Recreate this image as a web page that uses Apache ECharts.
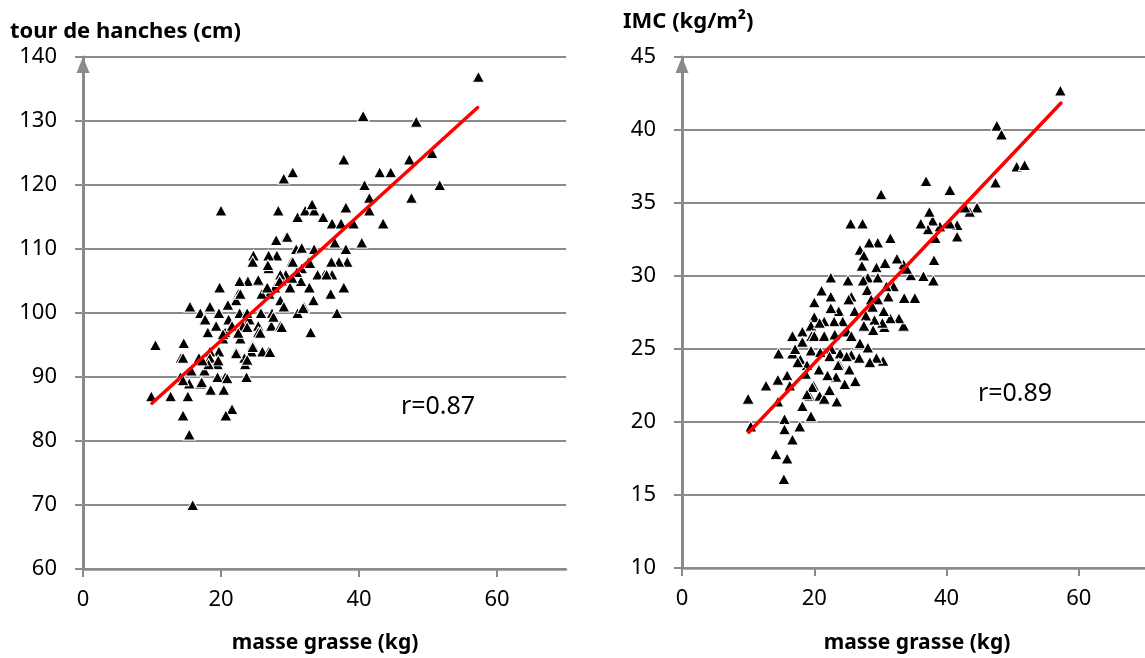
<!DOCTYPE html>
<html>
<head>
<meta charset="utf-8">
<script src="https://cdn.jsdelivr.net/npm/echarts@6/dist/echarts.min.js"></script>
<style>
html,body{margin:0;padding:0;background:#fff;}
#chart{width:1145px;height:658px;}
</style>
</head>
<body>
<div id="chart"></div>
<script>
// ---- Data ----
const xTicks = [0, 20, 40, 60];
const leftTitle = 'tour de hanches (cm)';
const rightTitle = 'IMC (kg/m²)';
const xTitle = 'masse grasse (kg)';
const leftR = 'r=0.87';
const rightR = 'r=0.89';

// masse grasse (kg), tour de hanches (cm)
const hipPoints = [
[57.3,136.9],[40.6,130.8],[48.3,129.9],[37.8,124],[47.3,124],[50.6,125],[43,122],[44.6,122],[51.7,120],[40.8,120],
[47.6,118],[41.5,118],[41.5,116],[43.5,114],[38.1,116.5],[29.1,121],[30.4,122],[20,116],[28.3,116],[31.1,115],
[32.2,116],[33.5,116],[33.2,117],[34.8,115],[36.1,114],[37.4,114],[39.2,114],[40.4,111],[36.5,111],[38.1,110],
[38.3,108],[37.1,108],[36,108],[36.1,106],[35,106],[34,106],[35.9,103],[37.8,104],[36.8,100],[33.3,102],
[32.8,104],[33,97],[32,101],[31.1,100],[33.5,110],[32.7,108],[31.7,107],[31.6,105],[29.5,112],[30.2,108],
[29.4,106],[30.9,110],[28.1,109],[26.9,107],[28.8,105],[30,104],[27.8,104],[28.6,102],[27,103],[29.1,101],
[27.4,100],[25.9,103],[25.5,105],[24.7,109],[24.6,108],[23.9,105],[22.7,105],[22.5,103],[19.8,104],[22.2,102],
[25.7,100],[24.1,99],[22.7,100],[21.1,99],[19.7,100],[18.4,101],[15.5,101],[17,100],[17.6,99],[18.1,97],
[19.3,98],[20.6,97],[21.6,98],[23.2,98],[25.4,98],[27.3,98],[28.6,98],[25.4,97],[22.8,96],[20.3,96],
[24.6,95],[26.9,94],[26,94],[24.4,94],[22.2,94],[19.7,94],[18.4,94],[18.4,93],[16.8,93],[23.4,93],
[19.5,92],[23.5,92],[23.7,90],[20.6,90],[19.5,90],[15.7,91],[17.6,91],[14.2,93],[14.6,95.3],[10.5,95],
[14.1,90],[15.4,89],[17,89],[18.5,88],[20.4,88],[15.2,87],[12.7,87],[9.9,87],[14.5,84],[21.6,85],
[20.7,84],[15.4,81],[15.9,70],[28.6,106],[26.9,109],[31.7,110.2],[31,106.4],[32.9,107.8],[31.9,100.8],[30.3,105.5],
[28.5,105],[26.7,104],[25.4,105.2],[22.8,103],[21,101.3],[18.4,101],[17.7,99],[20.3,96.7],[23.8,100],[25.8,100],
[27.6,99.4],[28.8,97.8],[25.7,96.9],[23.8,97.8],[22.5,96.9],[24.6,94.7],[27.1,93.9],[23.8,92.7],[22.2,93.7],[19.6,92.6],
[18.2,92],[20.9,89.8],[17.2,89.2],[14.5,89.5],[14.5,93],[17.3,92.6],[28,111.4],[26.8,107.5],[29.6,111.9],[30.4,108],
[33.4,102],[35.3,106]
];

// masse grasse (kg), IMC (kg/m²)
const bmiPoints = [
[57.2,42.7],[47.6,40.3],[48.3,39.7],[50.6,37.5],[51.8,37.6],[47.4,36.4],[36.9,36.5],[40.5,35.9],[30.1,35.6],[44.6,34.7],
[43.5,34.4],[42.8,34.7],[41.6,33.5],[41.6,32.7],[40.5,33.6],[39,33.4],[38.3,32.6],[37.9,33.8],[37.2,33.2],[36.1,33.6],
[37.4,34.4],[38.1,31.1],[38,29.7],[36.5,30],[34.6,30.05],[33.5,30.8],[34,30.5],[35.2,28.5],[33.6,28.5],[33.5,26.6],
[32.8,27.1],[31.5,27.1],[30.6,26.5],[30.4,24.2],[29.4,24.4],[30.5,27.6],[31.2,28.6],[32,29.3],[30.9,29.3],[31.5,32.6],
[29.6,32.3],[28.3,32.3],[25.5,33.6],[27.3,33.6],[26.9,31.8],[27.5,31.4],[30.7,30.9],[29.4,30.6],[32.5,31.2],[27.2,30.7],
[28.1,29.9],[29.6,29.9],[27.4,29.7],[25.1,29.7],[22.5,29.9],[21.1,29],[22.5,28.6],[25.6,28.6],[28,29.05],[28.6,28.4],
[29.6,28.4],[28.8,27.9],[30.3,26.8],[29.1,27],[28.9,26.3],[27.8,27.3],[27.5,26.6],[26.1,27.6],[25.2,28.4],[23.7,27.6],
[22.5,27.8],[20,28.2],[20,27.2],[19.5,26.6],[18.2,26.2],[16.7,25.9],[18.2,25.5],[19.6,25.9],[20,25.9],[21.5,25.9],
[23.1,26],[25,26.2],[24.3,26.9],[23,26.9],[21.5,26.9],[20.8,26.8],[14.6,24.7],[16.7,24.7],[17.9,24.3],[17.1,25],
[19.5,24.9],[20.9,24.8],[22.6,25],[23.9,24.7],[25.6,25.9],[26.9,25.4],[25.6,24.6],[26.8,24.4],[28.1,25.1],[28.4,24.1],
[24.9,24.5],[23.7,24],[22.3,24.5],[20.7,23.6],[18.9,23.9],[17.5,24.1],[18.7,23.3],[15.9,23.2],[14.5,22.9],[16.3,22.5],
[12.7,22.5],[10,21.6],[14.5,21.4],[10.4,19.7],[15.5,20.2],[15.5,19.5],[14.2,17.8],[15.9,17.5],[15.4,16.1],[16.7,18.8],
[17.8,19.7],[19.5,20.4],[18.2,21.1],[19.3,21.8],[19.9,22.5],[20.8,21.8],[21.5,21.6],[22.3,22.2],[23.4,21.4],[23.3,23.1],
[24.6,22.6],[26.2,22.8],[25.3,23.6],[23.6,23.9],[22,23.2],[19.7,22.4],[18.9,21.9]
];

// regression lines (end points)
const hipTrend = [[10, 85.9], [57.2, 132.1]];
const bmiTrend = [[10.1, 19.3], [57.3, 41.85]];

// ---- Chart ----
const FONT = '"Noto Sans", "DejaVu Sans", sans-serif';
const GRAY = '#8a8a8a';
const chart = echarts.init(document.getElementById('chart'), null, {renderer: 'canvas'});

function xAxis(gi) {
  return {
    type: 'value', gridIndex: gi, min: 0, max: 70, interval: 20,
    axisLine: {show: true, onZero: false, lineStyle: {color: GRAY, width: 2.5}},
    axisTick: {show: true, length: 8, lineStyle: {color: GRAY, width: 2}, customValues: xTicks},
    axisLabel: {color: '#000', fontSize: 22, fontFamily: FONT, margin: 20, customValues: xTicks},
    splitLine: {show: false}
  };
}
function yAxis(gi, min, max, interval) {
  return {
    type: 'value', gridIndex: gi, min: min, max: max, interval: interval,
    axisLine: {show: true, onZero: false, symbol: ['none', 'triangle'], symbolSize: [13, 16], symbolOffset: [0, -8],
      lineStyle: {color: GRAY, width: 3}},
    axisTick: {show: true, length: 8, lineStyle: {color: GRAY, width: 2}},
    axisLabel: {color: '#000', fontSize: 22, fontFamily: FONT, margin: 26},
    splitLine: {show: true, lineStyle: {color: GRAY, width: 2}}
  };
}
const scatterStyle = {
  type: 'scatter', symbol: 'triangle', symbolSize: [12, 11],
  itemStyle: {color: '#000', borderColor: '#fff', borderWidth: 1, opacity: 1},
  emphasis: {disabled: true}, z: 3
};
const lineStyle = {
  type: 'line', symbol: 'none', lineStyle: {color: '#ff0000', width: 3.5, cap: 'round'}, z: 5, silent: true
};

chart.setOption({
  animation: false,
  backgroundColor: '#fff',
  grid: [
    {left: 83, top: 57, width: 483, height: 512},
    {left: 682, top: 57, width: 470, height: 511}
  ],
  xAxis: [xAxis(0), xAxis(1)],
  yAxis: [yAxis(0, 60, 140, 10), yAxis(1, 10, 45, 5)],
  series: [
    Object.assign({}, scatterStyle, {xAxisIndex: 0, yAxisIndex: 0, data: hipPoints}),
    Object.assign({}, scatterStyle, {xAxisIndex: 1, yAxisIndex: 1, data: bmiPoints}),
    Object.assign({}, lineStyle, {xAxisIndex: 0, yAxisIndex: 0, data: hipTrend}),
    Object.assign({}, lineStyle, {xAxisIndex: 1, yAxisIndex: 1, data: bmiTrend})
  ],
  graphic: [
    {type: 'text', x: 10, y: 32, style: {text: leftTitle, font: 'bold 22px ' + FONT, fill: '#000', align: 'left', verticalAlign: 'middle'}},
    {type: 'text', x: 623, y: 22, style: {text: rightTitle, font: 'bold 22px ' + FONT, fill: '#000', align: 'left', verticalAlign: 'middle'}},
    {type: 'text', x: 325, y: 643, style: {text: xTitle, font: 'bold 21px ' + FONT, fill: '#000', align: 'center', verticalAlign: 'middle'}},
    {type: 'text', x: 917, y: 643, style: {text: xTitle, font: 'bold 21px ' + FONT, fill: '#000', align: 'center', verticalAlign: 'middle'}},
    {type: 'text', x: 438, y: 407, style: {text: leftR, font: '25px ' + FONT, fill: '#000', align: 'center', verticalAlign: 'middle'}},
    {type: 'text', x: 1015, y: 394, style: {text: rightR, font: '25px ' + FONT, fill: '#000', align: 'center', verticalAlign: 'middle'}}
  ]
});
</script>
</body>
</html>
